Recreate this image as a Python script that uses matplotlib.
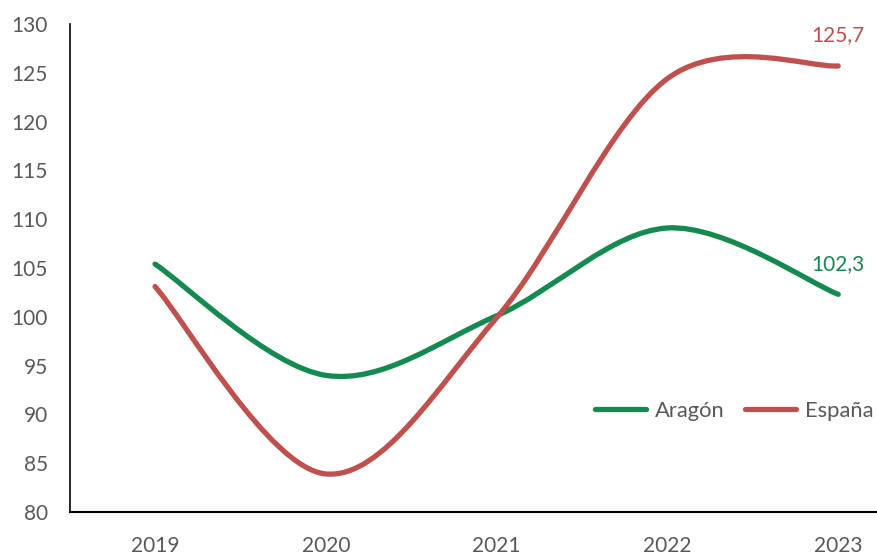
import matplotlib.pyplot as plt
from matplotlib.path import Path
from matplotlib.patches import PathPatch
from matplotlib.lines import Line2D

plt.rcParams['font.family'] = ['Lato', 'DejaVu Sans']

# Datos (índice, base 2021 = 100)
anios = ['2019', '2020', '2021', '2022', '2023']
aragon = [105.4, 94.0, 100.1, 109.1, 102.3]
espana = [103.1, 83.9, 99.9, 124.4, 125.7]

verde = '#138A4F'
rojo = '#C0504D'
gris = '#595959'


def curva_suave(ys):
    # suavizado tipo Excel: bezier cubica que pasa por cada punto
    xs = list(range(len(ys)))
    pts = list(zip(xs, ys))
    verts = [pts[0]]
    codes = [Path.MOVETO]
    n = len(pts)
    for i in range(n - 1):
        p0 = pts[i - 1] if i > 0 else pts[i]
        p1 = pts[i]
        p2 = pts[i + 1]
        p3 = pts[i + 2] if i + 2 < n else pts[i + 1]
        c1 = (p1[0] + (p2[0] - p0[0]) / 6, p1[1] + (p2[1] - p0[1]) / 6)
        c2 = (p2[0] - (p3[0] - p1[0]) / 6, p2[1] - (p3[1] - p1[1]) / 6)
        verts += [c1, c2, p2]
        codes += [Path.CURVE4] * 3
    return Path(verts, codes)


fig = plt.figure(figsize=(8.77, 5.54), dpi=100)
ax = fig.add_axes([0.0794, 0.0758, 0.9737, 0.8809])

for serie, color in [(aragon, verde), (espana, rojo)]:
    patch = PathPatch(curva_suave(serie), facecolor='none', edgecolor=color,
                      lw=3.8, capstyle='round', joinstyle='round')
    ax.add_patch(patch)

# etiquetas del ultimo valor
for serie, color in [(espana, rojo), (aragon, verde)]:
    ax.annotate(f"{serie[-1]:.1f}".replace('.', ','), xy=(4, serie[-1]),
                xytext=(0, 22), textcoords='offset points',
                ha='center', va='center', color=color, fontsize=15)

ax.set_xlim(-0.5, 4.5)
ax.set_ylim(80, 130)
ax.set_xticks(range(len(anios)))
ax.set_xticklabels(anios)
ax.set_yticks(range(80, 131, 5))

ax.tick_params(axis='both', length=0, labelsize=15, labelcolor=gris)
ax.tick_params(axis='y', pad=15.5)
ax.tick_params(axis='x', pad=17)
for s in ['top', 'right']:
    ax.spines[s].set_visible(False)
ax.spines['left'].set_linewidth(1.2)
ax.spines['bottom'].set_linewidth(1.5)

handles = [Line2D([], [], color=verde, lw=3.8, solid_capstyle='round'),
           Line2D([], [], color=rojo, lw=3.8, solid_capstyle='round')]
fig.legend(handles, ['Aragón', 'España'], loc='center left',
           bbox_to_anchor=(0.679, 0.258), ncol=2, frameon=False,
           fontsize=15.8, labelcolor=gris, handlelength=2.3,
           handletextpad=0.4, columnspacing=0.95, borderpad=0,
           borderaxespad=0)

fig.savefig('out.png', dpi=100)
